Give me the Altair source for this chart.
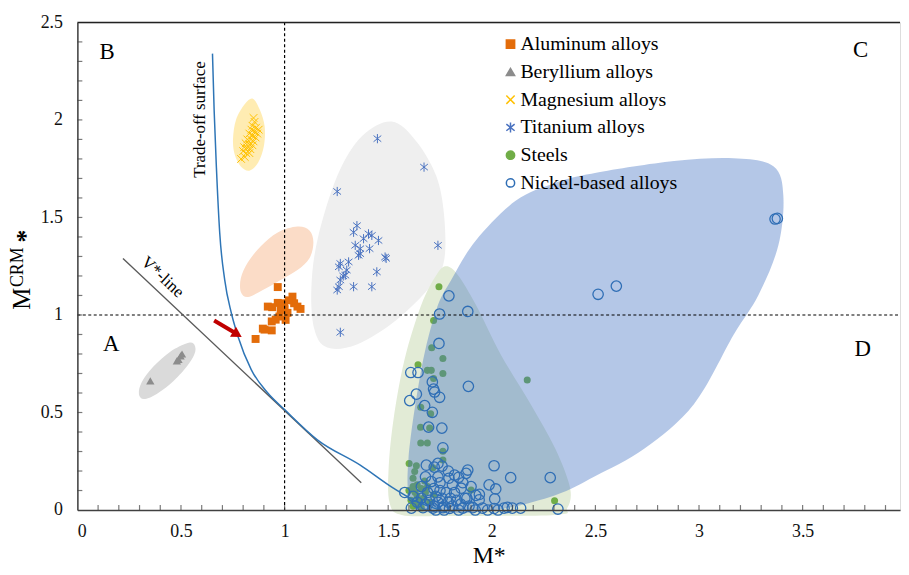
import altair as alt
import pandas as pd

FONT = "Liberation Serif"
W, H = 830, 492

SERIES = ["Aluminum alloys", "Beryllium alloys", "Magnesium alloys",
          "Titanium alloys", "Steels", "Nickel-based alloys"]

# ---------------- data points ----------------
al_x = [0.967, 1.000, 0.860, 0.895, 0.938, 0.938, 0.919, 0.967, 1.038, 1.062, 1.077,
        0.981, 1.014, 0.975, 0.957, 0.998, 1.046, 0.940, 0.903, 1.020, 1.005, 0.990]
al_y = [1.143, 1.030, 0.877, 0.930, 0.921, 0.967, 1.043, 1.062, 1.094, 1.043, 1.031,
        1.026, 1.011, 0.992, 0.976, 1.060, 1.060, 1.040, 0.925, 1.075, 0.975, 1.045]

be_x = [0.352, 0.480, 0.488, 0.498, 0.505]
be_y = [0.662, 0.765, 0.772, 0.790, 0.800]

mg_x = [0.855, 0.845, 0.862, 0.840, 0.855, 0.868, 0.830, 0.845, 0.860, 0.820, 0.838, 0.850,
        0.812, 0.830, 0.845, 0.805, 0.820, 0.835, 0.800, 0.815, 0.830, 0.808, 0.790, 0.850, 0.875]
mg_y = [1.990, 1.970, 1.960, 1.950, 1.940, 1.930, 1.930, 1.920, 1.910, 1.900, 1.900, 1.890,
        1.880, 1.875, 1.870, 1.860, 1.855, 1.850, 1.840, 1.830, 1.830, 1.810, 1.800, 2.010, 1.950]

ti_x = [1.448, 1.673, 1.254, 1.740, 1.349, 1.333, 1.405, 1.453, 1.381, 1.421, 1.341, 1.365,
        1.410, 1.365, 1.485, 1.490, 1.269, 1.309, 1.262, 1.293, 1.283, 1.269, 1.262, 1.254,
        1.333, 1.421, 1.445, 1.269, 1.300, 1.357]
ti_y = [1.904, 1.758, 1.633, 1.357, 1.458, 1.424, 1.416, 1.382, 1.391, 1.408, 1.357, 1.340,
        1.340, 1.314, 1.297, 1.290, 1.264, 1.272, 1.247, 1.204, 1.200, 1.179, 1.145, 1.128,
        1.145, 1.145, 1.221, 0.911, 1.230, 1.306]

st_x = [1.745, 1.719, 1.710, 1.764, 1.644, 1.689, 1.708, 1.764, 1.719, 2.171, 1.657, 1.705,
        1.656, 1.700, 1.657, 1.689, 1.764, 1.764, 1.601, 1.636, 1.628, 1.620, 1.676, 1.716,
        1.900, 2.303, 1.600, 1.620, 1.630, 1.640, 1.610, 1.650, 1.660, 1.670, 1.630, 1.680,
        1.620, 1.700, 1.660, 1.640, 1.690, 1.720]
st_y = [1.145, 0.972, 0.832, 0.777, 0.745, 0.716, 0.716, 0.700, 0.674, 0.667, 0.527, 0.493,
        0.425, 0.420, 0.344, 0.344, 0.301, 0.256, 0.239, 0.227, 0.197, 0.163, 0.149, 0.217,
        0.103, 0.047, 0.100, 0.120, 0.090, 0.070, 0.050, 0.040, 0.110, 0.060, 0.030, 0.090,
        0.020, 0.040, 0.010, 0.130, 0.120, 0.080]

ni_x = [1.793, 1.884, 1.748, 2.513, 2.601, 3.367, 3.378,
        1.745, 1.609, 1.644, 1.713, 1.887, 1.719, 1.636, 1.748, 1.724, 1.604, 1.676, 1.713,
        1.695, 1.759, 1.764, 1.684, 1.740, 1.760, 1.722, 1.884, 2.011, 2.091, 2.282, 1.820,
        1.840, 1.793, 1.708, 1.750, 1.876, 1.987, 2.019, 1.852, 1.580, 1.820, 1.923, 2.014,
        1.939, 1.880, 1.940, 1.612, 1.668, 1.716, 1.764, 1.796, 1.860, 1.908, 1.955, 2.011,
        2.059, 2.075, 2.099, 2.139, 2.319,
        1.640, 1.660, 1.680, 1.700, 1.720, 1.730, 1.740, 1.760, 1.770, 1.780, 1.790, 1.800,
        1.810, 1.830, 1.850, 1.870, 1.890, 1.720, 1.750, 1.690, 1.660, 1.620, 1.810, 1.860,
        1.900, 1.740, 1.680, 1.790, 1.730, 1.770, 1.840, 1.920, 1.980, 2.030]
ni_y = [1.098, 1.018, 1.005, 1.106, 1.148, 1.492, 1.495,
        0.854, 0.705, 0.705, 0.657, 0.634, 0.620, 0.594, 0.578, 0.605, 0.561, 0.535, 0.501,
        0.425, 0.420, 0.319, 0.230, 0.239, 0.225, 0.220, 0.205, 0.227, 0.166, 0.166, 0.179,
        0.168, 0.163, 0.146, 0.140, 0.188, 0.129, 0.108, 0.112, 0.090, 0.090, 0.075, 0.057,
        0.052, 0.060, 0.080, 0.010, 0.012, 0.010, 0.012, 0.008, 0.010, 0.012, 0.010, 0.008,
        0.010, 0.014, 0.010, 0.010, 0.005,
        0.040, 0.060, 0.030, 0.050, 0.020, 0.070, 0.040, 0.060, 0.020, 0.090, 0.040, 0.060,
        0.020, 0.050, 0.030, 0.060, 0.020, 0.110, 0.100, 0.090, 0.120, 0.070, 0.130, 0.140,
        0.120, 0.170, 0.170, 0.200, 0.000, 0.000, 0.000, 0.000, 0.000, 0.000]

# ---------------- shaded regions (outline vertices) ----------------
mg_reg_x = [0.847, 0.880, 0.904, 0.900, 0.872, 0.830, 0.790, 0.760, 0.751, 0.766, 0.809]
mg_reg_y = [2.109, 2.053, 1.966, 1.865, 1.780, 1.740, 1.760, 1.820, 1.900, 2.002, 2.083]

al_reg_x = [1.062, 1.120, 1.139, 1.120, 1.062, 0.981, 0.895, 0.823, 0.789, 0.789, 0.823, 0.885, 0.967]
al_reg_y = [1.453, 1.433, 1.372, 1.291, 1.230, 1.179, 1.128, 1.092, 1.118, 1.189, 1.270, 1.352, 1.423]

be_reg_x = [0.560, 0.569, 0.536, 0.464, 0.383, 0.321, 0.297, 0.311, 0.368, 0.450, 0.526]
be_reg_y = [0.854, 0.813, 0.747, 0.661, 0.595, 0.569, 0.595, 0.656, 0.737, 0.813, 0.854]

ti_reg_x = [1.517, 1.636, 1.732, 1.770, 1.770, 1.708, 1.541, 1.349, 1.206, 1.144, 1.129, 1.158, 1.254, 1.373]
ti_reg_y = [1.992, 1.890, 1.712, 1.509, 1.280, 1.153, 0.976, 0.849, 0.833, 0.925, 1.128, 1.382, 1.712, 1.916]

st_reg_x = [1.780, 1.837, 1.923, 2.043, 2.187, 2.306, 2.378, 2.364, 2.306, 1.780, 1.565,
            1.507, 1.502, 1.526, 1.579, 1.660, 1.732]
st_reg_y = [1.250, 1.204, 1.052, 0.798, 0.544, 0.315, 0.112, 0.010, -0.025, -0.030, -0.025,
            0.036, 0.213, 0.467, 0.772, 1.052, 1.204]

ni_reg_x = [2.498, 2.880, 3.167, 3.359, 3.407, 3.383, 3.287, 3.167, 2.976, 2.737, 2.498,
            2.306, 2.019, 1.732, 1.612, 1.598, 1.660, 1.732, 1.804, 1.923, 2.115, 2.306]
ni_reg_y = [1.728, 1.789, 1.804, 1.763, 1.611, 1.357, 1.103, 0.899, 0.544, 0.315, 0.173,
            0.076, 0.000, -0.015, 0.036, 0.264, 0.722, 1.026, 1.179, 1.382, 1.585, 1.677]

# ---------------- lines ----------------
trade_x = [0.652, 0.660, 0.671, 0.687, 0.711, 0.743, 0.775, 0.839, 0.919, 1.000, 1.158, 1.365, 1.525, 1.636, 1.750]
trade_y = [2.340, 2.050, 1.755, 1.420, 1.180, 1.010, 0.890, 0.720, 0.600, 0.515, 0.360, 0.230, 0.112, 0.044, 0.000]

vline_x = [0.220, 1.370]
vline_y = [1.290, 0.140]

arrow_x = [0.660, 0.772]
arrow_y = [0.972, 0.901]

x_ticks = [0, 0.5, 1, 1.5, 2, 2.5, 3, 3.5]
y_ticks = [0, 0.5, 1, 1.5, 2, 2.5]
x_minor = [round(0.1 * i, 1) for i in range(1, 40)]
y_minor = [round(0.1 * i, 1) for i in range(1, 25)]

# ---------------- scales / encodings ----------------
xs = alt.Scale(domain=[0, 3.97], nice=False, zero=False)
ys = alt.Scale(domain=[0, 2.5], nice=False, zero=False)
xaxis = alt.Axis(values=x_ticks, format="~g", ticks=False, labelPadding=13, labelFont=FONT,
                 labelFontSize=18, labelColor="#111111", domainColor="#404040", domainWidth=1.5,
                 grid=False, title="M*", titleFont=FONT, titleFontSize=24, titleFontWeight="normal",
                 titleColor="black", titleBaseline="alphabetic", titleY=53, zindex=1)
yaxis = alt.Axis(values=y_ticks, format="~g", ticks=False, labelPadding=15, labelFont=FONT,
                 labelFontSize=18, labelColor="#111111", domainColor="#404040", domainWidth=1.5,
                 grid=False, title=None, zindex=1)


def X(f="x"):
    return alt.X(f"{f}:Q", scale=xs, axis=xaxis)


def Y(f="y"):
    return alt.Y(f"{f}:Q", scale=ys, axis=yaxis)


shape_scale = alt.Scale(domain=SERIES, range=[
    "square", "triangle-up", "M-1,-1L1,1M-1,1L1,-1",
    "M-1,-0.8L1,0.8M-1,0.8L1,-0.8M0,-1.2L0,1.2", "circle", "circle"])
fill_scale = alt.Scale(domain=SERIES, range=[
    "#E36C0A", "#8C8C8C", "transparent", "transparent", "#70AD47", "transparent"])
stroke_scale = alt.Scale(domain=SERIES, range=[
    "#E36C0A", "#8C8C8C", "#FFC000", "#4A72C0", "#70AD47", "#2F6EB5"])
leg = alt.Legend(title=None, orient="none", legendX=427, legendY=12, labelFont=FONT,
                 labelFontSize=20, labelColor="black", symbolSize=70, symbolStrokeWidth=1.5,
                 rowPadding=8, labelOffset=0, padding=0)


def pts(xv, yv, name, size, sw):
    df = pd.DataFrame({"x": xv, "y": yv, "series": name})
    return alt.Chart(df).mark_point(size=size, strokeWidth=sw, opacity=1).encode(
        x=X(), y=Y(),
        shape=alt.Shape("series:N", scale=shape_scale, legend=leg),
        fill=alt.Fill("series:N", scale=fill_scale, legend=leg),
        stroke=alt.Stroke("series:N", scale=stroke_scale, legend=leg),
    )


def region(xv, yv, color, op=1.0):
    df = pd.DataFrame({"x": xv, "y": yv, "i": list(range(len(xv)))})
    return alt.Chart(df).mark_line(interpolate="cardinal-closed", fill=color, fillOpacity=op,
                                   strokeOpacity=0, strokeWidth=0).encode(
        x=X(), y=Y(), order="i:Q")


def line(xv, yv, color, sw, interp="linear", dash=None):
    df = pd.DataFrame({"x": xv, "y": yv, "i": list(range(len(xv)))})
    kw = dict(color=color, strokeWidth=sw, interpolate=interp)
    if dash:
        kw["strokeDash"] = dash
    return alt.Chart(df).mark_line(**kw).encode(x=X(), y=Y(), order="i:Q")


def label(txt, xv, yv, size, angle=0):
    return alt.Chart(pd.DataFrame({"t": [txt]})).mark_text(
        font=FONT, fontSize=size, color="black", angle=angle, align="center", baseline="middle"
    ).encode(x=alt.datum(xv, scale=xs), y=alt.datum(yv, scale=ys), text="t:N")


regions = [
    region(mg_reg_x, mg_reg_y, "#FFC000", 0.3),
    region(al_reg_x, al_reg_y, "#FBDCC7"),
    region(be_reg_x, be_reg_y, "#DADADA"),
    region(ti_reg_x, ti_reg_y, "#EFEFEF"),
    region(st_reg_x, st_reg_y, "#E2EBD6"),
]

lower_pts = [
    pts(ti_x, ti_y, "Titanium alloys", 60, 1),
    pts(mg_x, mg_y, "Magnesium alloys", 60, 1),
    pts(al_x, al_y, "Aluminum alloys", 64, 0),
    pts(be_x, be_y, "Beryllium alloys", 70, 0),
    pts(st_x, st_y, "Steels", 50, 0),
]

ni_region = region(ni_reg_x, ni_reg_y, "#4472C4", 0.4)

vdash = alt.Chart(pd.DataFrame({"x": [1.0]})).mark_rule(color="black", strokeWidth=1.2, strokeDash=[3, 2.5]).encode(
    x=X(), y=alt.value(0), y2=alt.value(H))
hdash = alt.Chart(pd.DataFrame({"y": [1.0]})).mark_rule(color="black", strokeWidth=1.2, strokeDash=[3, 2.5]).encode(
    y=Y(), x=alt.value(0), x2=alt.value(W))

lines = [
    vdash, hdash,
    line(vline_x, vline_y, "#595959", 1.3),
    line(trade_x, trade_y, "#2E75B6", 1.5, interp="monotone"),
]

ni_pts = pts(ni_x, ni_y, "Nickel-based alloys", 110, 1.3)

arrow = line(arrow_x, arrow_y, "#C00000", 4)
arrow_head = alt.Chart(pd.DataFrame({"t": ["a"]})).mark_point(
    shape="triangle-right", angle=31, size=140, filled=True, color="#C00000", opacity=1
).encode(x=alt.datum(0.772, scale=xs), y=alt.datum(0.901, scale=ys))

texts = [
    label("B", 0.144, 2.347, 23),
    label("C", 3.78, 2.36, 23),
    label("A", 0.163, 0.849, 23),
    label("D", 3.79, 0.823, 23),
    label("Trade-off surface", 0.593, 2.002, 17, 270),
    label("V*-line", 0.411, 1.194, 17, 43),
]

tick_df_x = pd.DataFrame({"x": x_minor})
tick_df_y = pd.DataFrame({"y": y_minor})
xticks = alt.Chart(tick_df_x).mark_tick(size=5, thickness=1.2, color="#404040").encode(
    x=X(), y=alt.value(H - 2.5))
yticks = alt.Chart(tick_df_y).mark_tick(size=5, thickness=1.2, color="#404040").encode(
    y=Y(), x=alt.value(2.5))
top_rule = alt.Chart(pd.DataFrame({"t": [0]})).mark_rule(color="#222222", strokeWidth=1.5).encode(
    x=alt.value(0), x2=alt.value(W), y=alt.value(0))

ytitle = [
    alt.Chart(pd.DataFrame({"t": ["M"]})).mark_text(font=FONT, fontSize=25, angle=270, align="left",
                                                   baseline="alphabetic", color="black").encode(
        x=alt.value(-48), y=alt.value(290), text="t:N"),
    alt.Chart(pd.DataFrame({"t": ["CRM"]})).mark_text(font=FONT, fontSize=18, angle=270, align="left",
                                                     baseline="alphabetic", color="black").encode(
        x=alt.value(-55), y=alt.value(267), text="t:N"),
    alt.Chart(pd.DataFrame({"t": ["*"]})).mark_text(font=FONT, fontSize=26, fontWeight="bold", angle=270,
                                                   align="left", baseline="alphabetic", color="black").encode(
        x=alt.value(-44), y=alt.value(222), text="t:N"),
]

chart = alt.layer(
    *regions, *lower_pts, ni_region, *lines, ni_pts, arrow, arrow_head, *texts,
    xticks, yticks, top_rule, *ytitle
).properties(
    width=W, height=H,
    autosize=alt.AutoSizeParams(type="none"),
    padding={"left": 70, "top": 12, "right": 1, "bottom": 60},
).configure_view(stroke=None).configure(
    background="white", font=FONT
).configure_axis(labelFont=FONT, titleFont=FONT).configure_legend(labelFont=FONT).configure_text(font=FONT)

chart.save("out.html", embed_options={"renderer": "svg", "actions": False})
